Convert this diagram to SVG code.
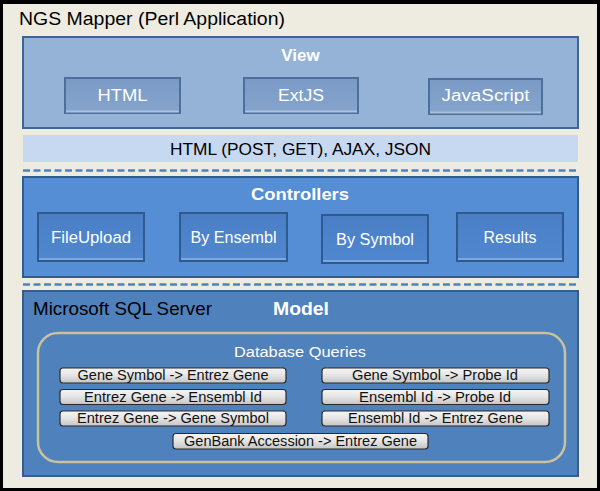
<svg xmlns="http://www.w3.org/2000/svg" width="600" height="491" viewBox="0 0 600 491">
<defs>
<linearGradient id="btn" x1="0" y1="0" x2="0" y2="1">
<stop offset="0" stop-color="#F6F6F6"/>
<stop offset="0.5" stop-color="#E4E4E4"/>
<stop offset="1" stop-color="#C4C4C4"/>
</linearGradient>
<linearGradient id="vbox" x1="0" y1="0" x2="0" y2="1">
<stop offset="0" stop-color="#7A9BC6"/>
<stop offset="1" stop-color="#86A4CC"/>
</linearGradient>
<linearGradient id="cbox" x1="0" y1="0" x2="0" y2="1">
<stop offset="0" stop-color="#4A7FC6"/>
<stop offset="1" stop-color="#5087CE"/>
</linearGradient>
</defs>
<style>
text{font-family:"Liberation Sans",Arial,sans-serif}
.w{fill:#FFFFFF}
.b{font-weight:bold}
.layer{stroke-width:2}
.vin{fill:url(#vbox);stroke:#4D6F9C;stroke-width:2}
.cin{fill:url(#cbox);stroke:#2E5A8E;stroke-width:2}
.hl{stroke-width:2;fill:none}
.q{fill:url(#btn);stroke:#2A2A2A;stroke-width:1.2}
.qt{font-size:14px;fill:#111}
.dash{stroke:#4F81BD;stroke-width:2.5;stroke-dasharray:7 3.5;fill:none}
</style>
<rect x="0" y="0" width="600" height="491" fill="#000"/>
<rect x="3" y="4" width="594" height="484" fill="#EEECE1"/>
<text x="19" y="25" font-size="18" fill="#000" textLength="266" lengthAdjust="spacingAndGlyphs">NGS Mapper (Perl Application)</text>

<g id="view">
<rect class="layer" x="23" y="37" width="555" height="91" fill="#95B3D7" stroke="#3F6698"/>
<text class="w b" x="300.5" y="61" font-size="17" text-anchor="middle">View</text>
</g>
<g id="html">
<rect class="vin" x="65" y="78" width="115" height="35"/>
<line class="hl" x1="66" y1="111.5" x2="179" y2="111.5" stroke="#A9C0DE"/>
<text class="w" x="122.5" y="101" font-size="16" text-anchor="middle" textLength="50" lengthAdjust="spacingAndGlyphs">HTML</text>
</g>
<g id="extjs">
<rect class="vin" x="244" y="78" width="114" height="35"/>
<line class="hl" x1="245" y1="111.5" x2="357" y2="111.5" stroke="#A9C0DE"/>
<text class="w" x="301" y="101" font-size="16" text-anchor="middle" textLength="46" lengthAdjust="spacingAndGlyphs">ExtJS</text>
</g>
<g id="javascript">
<rect class="vin" x="429" y="79" width="113" height="35"/>
<line class="hl" x1="430" y1="112.5" x2="541" y2="112.5" stroke="#A9C0DE"/>
<text class="w" x="485.5" y="101" font-size="16" text-anchor="middle" textLength="88" lengthAdjust="spacingAndGlyphs">JavaScript</text>
</g>

<g id="protocols">
<rect x="23" y="135" width="555" height="27" fill="#C6D9F1"/>
<text x="300.5" y="155" font-size="17" fill="#000" text-anchor="middle" textLength="261" lengthAdjust="spacingAndGlyphs">HTML (POST, GET), AJAX, JSON</text>
</g>

<g id="connectors">
<line class="dash" x1="23" y1="170.5" x2="578" y2="170.5"/>
<line class="dash" x1="23" y1="284.5" x2="578" y2="284.5"/>
</g>

<g id="controllers">
<rect class="layer" x="23" y="177" width="555" height="100" fill="#558ED5" stroke="#2F5D92"/>
<text class="w b" x="300" y="200" font-size="17" text-anchor="middle" textLength="98" lengthAdjust="spacingAndGlyphs">Controllers</text>
</g>
<g id="fileupload">
<rect class="cin" x="38" y="213" width="106" height="48"/>
<line class="hl" x1="39" y1="259" x2="143" y2="259" stroke="#7BA8E2"/>
<text class="w" x="91" y="243" font-size="16" text-anchor="middle" textLength="80" lengthAdjust="spacingAndGlyphs">FileUpload</text>
</g>
<g id="byensembl">
<rect class="cin" x="180" y="213" width="107" height="48"/>
<line class="hl" x1="181" y1="259" x2="286" y2="259" stroke="#7BA8E2"/>
<text class="w" x="233.5" y="243" font-size="16" text-anchor="middle" textLength="86" lengthAdjust="spacingAndGlyphs">By Ensembl</text>
</g>
<g id="bysymbol">
<rect class="cin" x="322" y="215" width="106" height="48"/>
<line class="hl" x1="323" y1="261" x2="427" y2="261" stroke="#7BA8E2"/>
<text class="w" x="375" y="245" font-size="16" text-anchor="middle" textLength="78" lengthAdjust="spacingAndGlyphs">By Symbol</text>
</g>
<g id="results">
<rect class="cin" x="457" y="213" width="106" height="48"/>
<line class="hl" x1="458" y1="259" x2="562" y2="259" stroke="#7BA8E2"/>
<text class="w" x="510" y="243" font-size="16" text-anchor="middle" textLength="53" lengthAdjust="spacingAndGlyphs">Results</text>
</g>

<g id="model">
<rect class="layer" x="23" y="291" width="555" height="185" fill="#4F81BD" stroke="#385D8A"/>
<text x="33" y="315" font-size="18" fill="#000" textLength="179" lengthAdjust="spacingAndGlyphs">Microsoft SQL Server</text>
<text class="w b" x="301" y="315" font-size="17.5" text-anchor="middle" textLength="56" lengthAdjust="spacingAndGlyphs">Model</text>
</g>
<g id="database-queries">
<rect x="38" y="333" width="527" height="129" rx="20" fill="none" stroke="#C9C29C" stroke-width="2.5"/>
<text class="w" x="300" y="357" font-size="15.5" text-anchor="middle" textLength="132" lengthAdjust="spacingAndGlyphs">Database Queries</text>
</g>
<g id="q1">
<rect class="q" x="60" y="368" width="226" height="15" rx="3"/>
<text class="qt" x="173" y="380" text-anchor="middle" textLength="191" lengthAdjust="spacingAndGlyphs">Gene Symbol -&gt; Entrez Gene</text>
</g>
<g id="q2">
<rect class="q" x="60" y="389.5" width="226" height="15" rx="3"/>
<text class="qt" x="173" y="401.5" text-anchor="middle" textLength="178" lengthAdjust="spacingAndGlyphs">Entrez Gene -&gt; Ensembl Id</text>
</g>
<g id="q3">
<rect class="q" x="60" y="411" width="226" height="15" rx="3"/>
<text class="qt" x="173" y="422.5" text-anchor="middle" textLength="192" lengthAdjust="spacingAndGlyphs">Entrez Gene -&gt; Gene Symbol</text>
</g>
<g id="q4">
<rect class="q" x="322" y="368" width="227" height="15" rx="3"/>
<text class="qt" x="435" y="380" text-anchor="middle" textLength="166" lengthAdjust="spacingAndGlyphs">Gene Symbol -&gt; Probe Id</text>
</g>
<g id="q5">
<rect class="q" x="322" y="389.5" width="227" height="15" rx="3"/>
<text class="qt" x="435" y="401.5" text-anchor="middle" textLength="152" lengthAdjust="spacingAndGlyphs">Ensembl Id -&gt; Probe Id</text>
</g>
<g id="q6">
<rect class="q" x="322" y="411" width="227" height="15" rx="3"/>
<text class="qt" x="435.5" y="422.5" text-anchor="middle" textLength="175" lengthAdjust="spacingAndGlyphs">Ensembl Id -&gt; Entrez Gene</text>
</g>
<g id="q7">
<rect class="q" x="173" y="433.5" width="255" height="15.5" rx="3"/>
<text class="qt" x="300.5" y="446" text-anchor="middle" textLength="233" lengthAdjust="spacingAndGlyphs">GenBank Accession -&gt; Entrez Gene</text>
</g>
</svg>
